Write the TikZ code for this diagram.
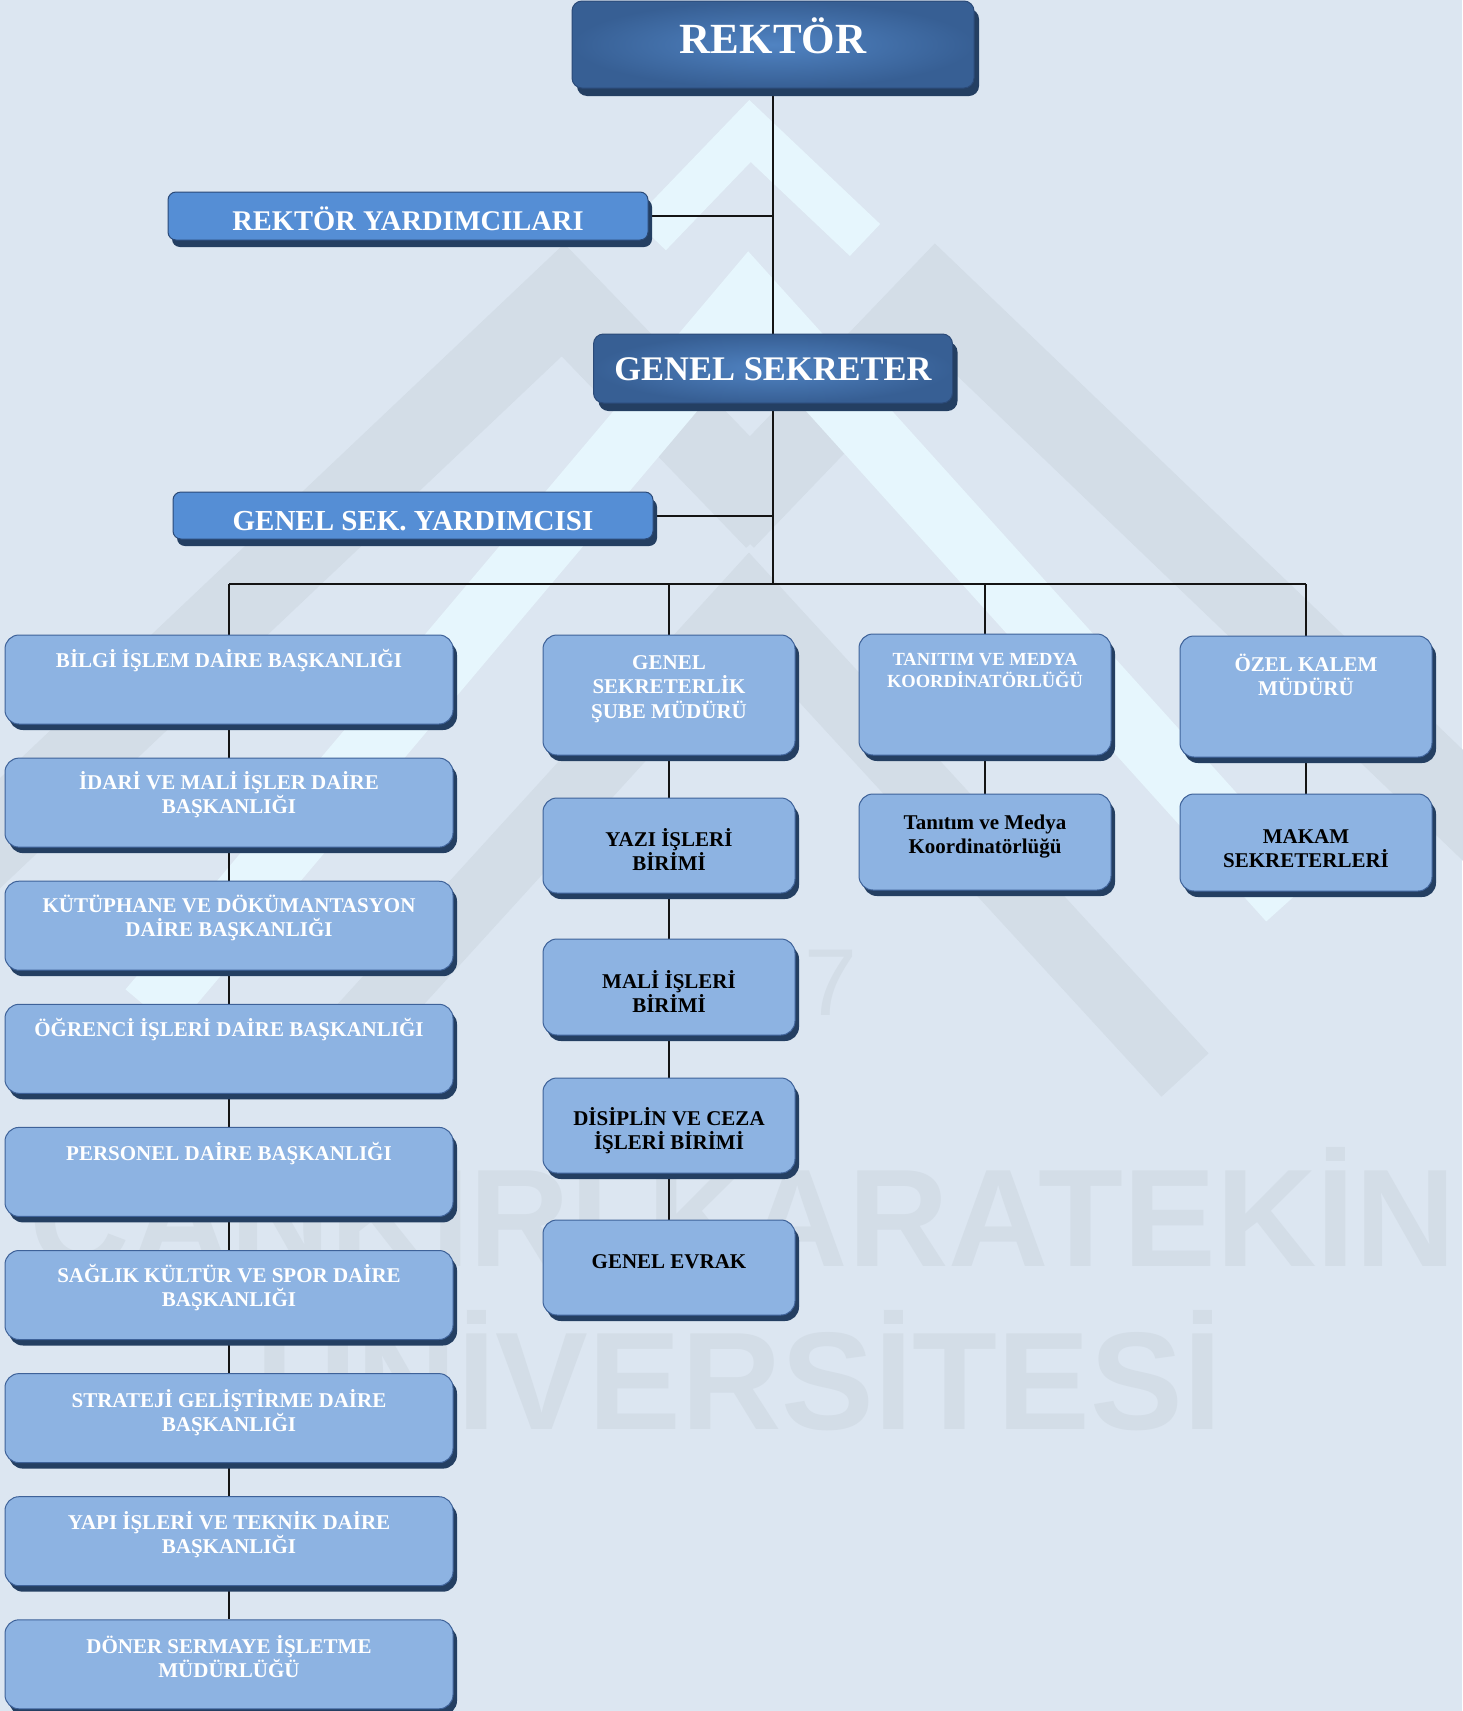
\documentclass[tikz,border=0pt]{standalone}
\usepackage{fontspec}
\setmainfont{Liberation Serif}
\newfontfamily\wmfont{Liberation Sans}
\usetikzlibrary{shadows,backgrounds}

\definecolor{bgc}{HTML}{DCE6F1}
\definecolor{wmgray}{HTML}{D3DDE7}
\definecolor{wmcyan}{HTML}{E6F6FD}
\definecolor{lightfill}{HTML}{8DB3E2}
\definecolor{midfill}{HTML}{558ED5}
\definecolor{darkin}{HTML}{5083C2}
\definecolor{darkout}{HTML}{375F94}
\definecolor{shadowc}{HTML}{243F62}
\definecolor{bordc}{HTML}{3E6299}
\definecolor{darkbord}{HTML}{2B4A78}

% top-aligned text box: height, width, first-baseline offset, text
\newcommand{\tb}[4]{\parbox[t][#1pt][t]{#2pt}{\centering\rule{0pt}{#3pt}#4}}

\begin{document}
\begin{tikzpicture}[x=1pt,y=-1pt,
  conn/.style={line width=2pt, draw=black!92},
  wmband/.style={line width=#1, line join=miter, line cap=butt},
  wmtext/.style={text=wmgray, inner sep=0pt, font=\wmfont\bfseries\fontsize{139}{150}\selectfont},
  lbox/.style={draw=bordc, line width=1pt, fill=lightfill, rounded corners=14pt, inner sep=0pt,
    drop shadow={shadow xshift=4pt, shadow yshift=-6pt, fill=shadowc, opacity=1}},
  lcol/.style={lbox, minimum width=448pt, text=white, font=\fontsize{21}{24}\selectfont\bfseries},
  mcol/.style={lbox, minimum width=252pt, font=\fontsize{21}{24}\selectfont\bfseries},
  mbox/.style={draw=darkbord, line width=1pt, fill=midfill, rounded corners=8pt, inner sep=0pt, text=white,
    drop shadow={shadow xshift=4pt, shadow yshift=-7pt, fill=shadowc, opacity=1}},
  dbox/.style={draw=darkbord, line width=1pt, inner color=darkin, outer color=darkout, rounded corners=10pt, inner sep=0pt, text=white,
    drop shadow={shadow xshift=5pt, shadow yshift=-8pt, fill=shadowc, opacity=1}}
]
\useasboundingbox (0,0) rectangle (1462,1711);

% ---------- nodes ----------
\node[dbox, minimum width=402pt, minimum height=87pt, font=\fontsize{43}{50}\selectfont\bfseries] (rektor) at (773,44.5) {\tb{87}{390}{52}{REKTÖR}};
\node[mbox, minimum width=480pt, minimum height=48pt, font=\fontsize{28.5}{32}\selectfont\bfseries] (ry) at (408,216) {\tb{48}{470}{38}{REKTÖR YARDIMCILARI}};
\node[dbox, minimum width=359pt, minimum height=69pt, font=\fontsize{34.5}{40}\selectfont\bfseries] (gs) at (773,368.5) {\tb{69}{350}{46}{GENEL SEKRETER}};
\node[mbox, minimum width=480pt, minimum height=47pt, font=\fontsize{29}{32}\selectfont\bfseries] (gsy) at (413,515.5) {\tb{47}{470}{38}{GENEL SEK. YARDIMCISI}};

% left column
\node[lcol] (bilgi) at (229,679.5) {\tb{89}{440}{32}{BİLGİ İŞLEM DAİRE BAŞKANLIĞI}};
\node[lcol] (idari) at (229,802.6) {\tb{89}{440}{31}{İDARİ VE MALİ İŞLER DAİRE\\BAŞKANLIĞI}};
\node[lcol] (kutup) at (229,925.7) {\tb{89}{440}{31}{KÜTÜPHANE VE DÖKÜMANTASYON\\DAİRE BAŞKANLIĞI}};
\node[lcol] (ogrenci) at (229,1048.8) {\tb{89}{440}{32}{ÖĞRENCİ İŞLERİ DAİRE BAŞKANLIĞI}};
\node[lcol] (personel) at (229,1171.9) {\tb{89}{440}{33}{PERSONEL DAİRE BAŞKANLIĞI}};
\node[lcol] (saglik) at (229,1295) {\tb{89}{440}{32}{SAĞLIK KÜLTÜR VE SPOR DAİRE\\BAŞKANLIĞI}};
\node[lcol] (strateji) at (229,1418.1) {\tb{89}{440}{34}{STRATEJİ GELİŞTİRME DAİRE\\BAŞKANLIĞI}};
\node[lcol] (yapi) at (229,1541.2) {\tb{89}{440}{33}{YAPI İŞLERİ VE TEKNİK DAİRE\\BAŞKANLIĞI}};
\node[lcol] (doner) at (229,1664.3) {\tb{89}{440}{34}{DÖNER SERMAYE İŞLETME\\MÜDÜRLÜĞÜ}};

% middle column
\node[mcol, text=white, font=\fontsize{21}{24.5}\selectfont\bfseries] (gsm) at (669,695) {\tb{120}{244}{34}{GENEL\\SEKRETERLİK\\ŞUBE MÜDÜRÜ}};
\node[mcol, text=black] (yazi) at (669,845.5) {\tb{95}{244}{48}{YAZI İŞLERİ\\BİRİMİ}};
\node[mcol, text=black] (mali) at (669,987) {\tb{96}{244}{49}{MALİ İŞLERİ\\BİRİMİ}};
\node[mcol, text=black] (disiplin) at (669,1125.5) {\tb{95}{244}{47}{DİSİPLİN VE CEZA\\İŞLERİ BİRİMİ}};
\node[mcol, text=black] (evrak) at (669,1267.5) {\tb{95}{244}{48}{GENEL EVRAK}};

% third column
\node[mcol, text=white, font=\fontsize{18.5}{22}\selectfont\bfseries] (tanitim) at (985,694.5) {\tb{121}{244}{31}{TANITIM VE MEDYA\\KOORDİNATÖRLÜĞÜ}};
\node[mcol, text=black] (tanitimb) at (985,842) {\tb{96}{244}{35}{Tanıtım ve Medya\\Koordinatörlüğü}};

% fourth column
\node[mcol, text=white] (ozel) at (1306,696.5) {\tb{121}{244}{35}{ÖZEL KALEM\\MÜDÜRÜ}};
\node[mcol, text=black] (makam) at (1306,842.5) {\tb{97}{244}{49}{MAKAM\\SEKRETERLERİ}};

\coordinate (bus) at (773,584);

\begin{pgfonlayer}{background}
% ---------- page background ----------
\fill[bgc] (0,0) rectangle (1462,1711);

% ---------- watermark ----------
\draw[wmgray, wmband=80pt] (-60,890) -- (563,300) -- (775,520);
\draw[wmgray, wmband=80pt] (725,520) -- (936,300) -- (1520,860);
\draw[wmgray, wmband=64pt] (330,1060) -- (749,600) -- (1185,1075);
\draw[wmcyan, wmband=64pt] (150,1010) -- (749,300) -- (1290,900);
\draw[wmcyan, wmband=44pt] (650,235) -- (750,131) -- (865,240);
\node[wmtext, anchor=base east] (wm1) at (1456,1266) {ÇANKIRI KARATEKİN};
\node[wmtext, anchor=base east] (wm2) at (1222,1429) {ÜNİVERSİTESİ};
\node[text=wmgray, inner sep=0pt, anchor=base east, font=\wmfont\fontsize{95}{100}\selectfont] (wm3) at (858,1015) {7};

% ---------- connectors ----------
\draw[conn] (rektor.south) -- (gs.north);
\draw[conn] (ry.east) -- (ry.east -| rektor.south);
\draw[conn] (gsy.east) -- (gsy.east -| gs.south);
\draw[conn] (gs.south) -- (bus);
\draw[conn] (bilgi.north |- bus) -- (ozel.north |- bus);
\draw[conn] (bilgi.north |- bus) -- (bilgi.north);
\draw[conn] (gsm.north |- bus) -- (gsm.north);
\draw[conn] (tanitim.north |- bus) -- (tanitim.north);
\draw[conn] (ozel.north |- bus) -- (ozel.north);
\draw[conn] (bilgi) -- (idari);
\draw[conn] (idari) -- (kutup);
\draw[conn] (kutup) -- (ogrenci);
\draw[conn] (ogrenci) -- (personel);
\draw[conn] (personel) -- (saglik);
\draw[conn] (saglik) -- (strateji);
\draw[conn] (strateji) -- (yapi);
\draw[conn] (yapi) -- (doner);
\draw[conn] (gsm) -- (yazi);
\draw[conn] (yazi) -- (mali);
\draw[conn] (mali) -- (disiplin);
\draw[conn] (disiplin) -- (evrak);
\draw[conn] (tanitim) -- (tanitimb);
\draw[conn] (ozel) -- (makam);
\end{pgfonlayer}
\end{tikzpicture}
\end{document}
